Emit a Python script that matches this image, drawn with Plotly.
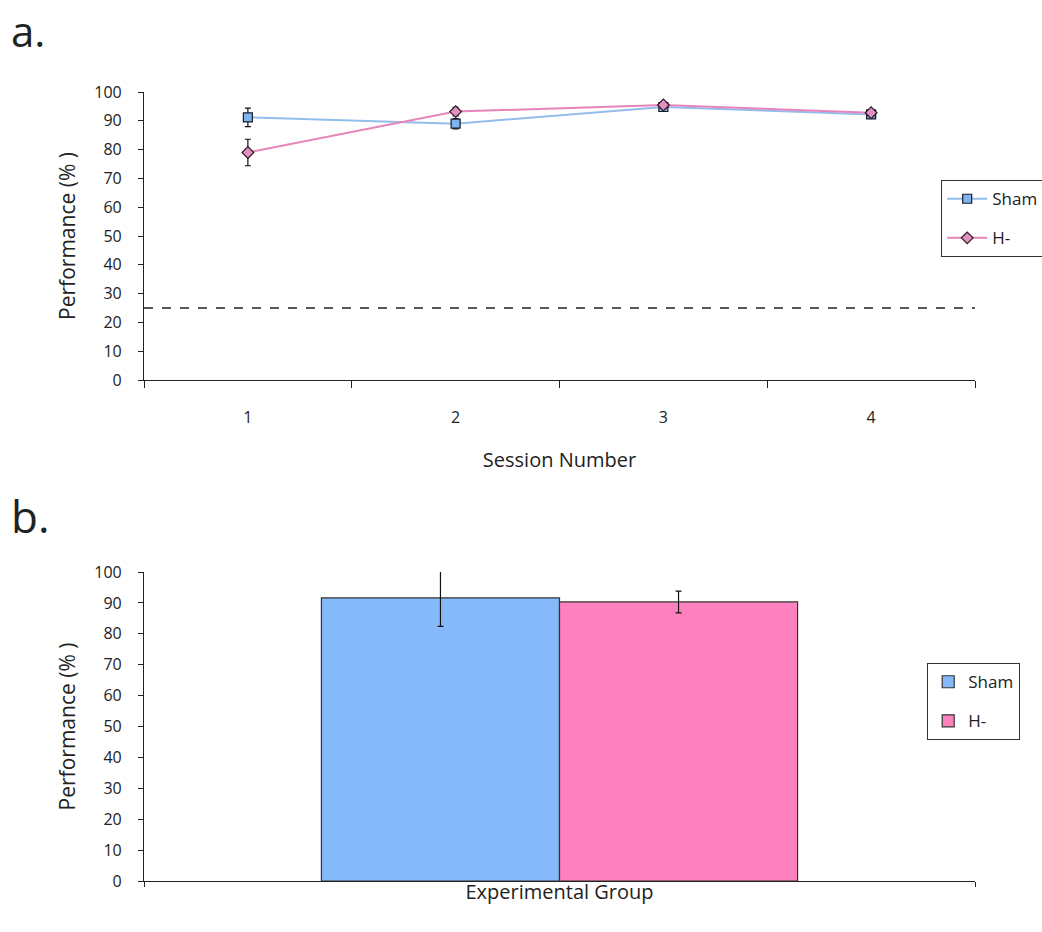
import plotly.graph_objects as go

sessions = ["1", "2", "3", "4"]
sham_perf = [91.2, 89.0, 94.8, 92.2]
sham_err = [3.2, 1.8, 1.0, 1.0]
hminus_perf = [79.0, 93.2, 95.5, 92.8]
hminus_err = [4.6, 1.5, 1.0, 1.0]
chance_level = 25

groups = ["Sham", "H-"]
group_perf = [91.6, 90.3]
group_err = [9.2, 3.5]

SHAM_LINE = "#92bdec"
SHAM_FILL = "#7fb3ee"
H_LINE = "#e784bb"
H_FILL = "#e590c2"
SHAM_BAR = "#86b9f9"
H_BAR = "#ff80bf"
FONT = "Open Sans"
W, H = 1042, 932


def xd(p):
    return p / W


def yd(p):
    return 1 - p / H


fig = go.Figure()

fig.add_trace(go.Scatter(
    x=sessions, y=sham_perf, name="Sham", mode="lines+markers",
    line=dict(color=SHAM_LINE, width=2),
    marker=dict(symbol="square", size=9, color=SHAM_FILL, line=dict(color="#1a1a2a", width=1.2)),
    error_y=dict(type="data", array=sham_err, color="#111", thickness=1.2, width=3),
    xaxis="x", yaxis="y", legend="legend", legendgroup="a1"))
fig.add_trace(go.Scatter(
    x=sessions, y=hminus_perf, name="H-", mode="lines+markers",
    line=dict(color=H_LINE, width=2),
    marker=dict(symbol="diamond", size=9, color=H_FILL, line=dict(color="#2a1a22", width=1.2)),
    error_y=dict(type="data", array=hminus_err, color="#111", thickness=1.2, width=3),
    xaxis="x", yaxis="y", legend="legend", legendgroup="a2"))

for g, v, e, c in zip(groups, group_perf, group_err, [SHAM_BAR, H_BAR]):
    fig.add_trace(go.Bar(
        x=[""], y=[v], name=g, marker=dict(color=c, line=dict(color="#333", width=1.2)),
        error_y=dict(type="data", array=[e], color="#111", thickness=1.2, width=3),
        xaxis="x2", yaxis="y2", legend="legend2", legendgroup="b" + g))

fig.add_shape(type="line", xref="x domain", yref="y", x0=0, x1=1, y0=chance_level, y1=chance_level,
              line=dict(color="#222", width=1.3, dash="dash"))

axis_common = dict(showline=True, linecolor="#222", linewidth=1.2, ticks="outside",
                   tickcolor="#222", tickfont=dict(family=FONT, size=16, color="#222"),
                   showgrid=False, zeroline=False, automargin=False)

fig.update_layout(
    width=W, height=H,
    margin=dict(l=0, r=0, t=0, b=0, autoexpand=False),
    paper_bgcolor="white", plot_bgcolor="white",
    font=dict(family=FONT, color="#222"),
    barmode="group", bargap=0.427, bargroupgap=0,
    xaxis=dict(domain=[xd(144), xd(975)], anchor="y", type="category", tickson="boundaries",
               ticklen=7, ticklabelstandoff=23, range=[-0.5, 3.5],
               title=dict(text="Session Number", font=dict(family=FONT, size=20), standoff=25),
               **axis_common),
    yaxis=dict(domain=[yd(380), yd(92)], anchor="x", range=[0, 100], dtick=10, ticklen=5,
               ticklabelstandoff=13,
               title=dict(text="Performance (% )", font=dict(family=FONT, size=21), standoff=12),
               **axis_common),
    xaxis2=dict(domain=[xd(144), xd(975)], anchor="y2", type="category", tickson="boundaries",
                ticklen=5, range=[-0.5, 0.5],
                title=dict(text="Experimental Group", font=dict(family=FONT, size=20), standoff=0),
                **axis_common),
    yaxis2=dict(domain=[yd(881), yd(572)], anchor="x2", range=[0, 100], dtick=10, ticklen=5,
                ticklabelstandoff=13,
                title=dict(text="Performance (% )", font=dict(family=FONT, size=21), standoff=12),
                **axis_common),
    legend=dict(x=xd(941), y=yd(180), xanchor="left", yanchor="top", bordercolor="#333", borderwidth=1.2,
                bgcolor="white", font=dict(family=FONT, size=17), tracegroupgap=14,
                itemwidth=40),
    legend2=dict(x=xd(927), y=yd(663), xanchor="left", yanchor="top", bordercolor="#333", borderwidth=1.2,
                 bgcolor="white", font=dict(family=FONT, size=17), tracegroupgap=14, itemwidth=30),
    showlegend=True,
)

fig.add_annotation(text="a.", xref="paper", yref="paper", x=xd(9), y=1.0, xanchor="left", yanchor="top",
                   showarrow=False, font=dict(family=FONT, size=42, color="#222"))
fig.add_annotation(text="b.", xref="paper", yref="paper", x=xd(9), y=yd(484), xanchor="left", yanchor="top",
                   showarrow=False, font=dict(family=FONT, size=44, color="#222"))

fig.write_html("out.html", config={"displayModeBar": False},
               post_script="document.body.style.margin='0';")
